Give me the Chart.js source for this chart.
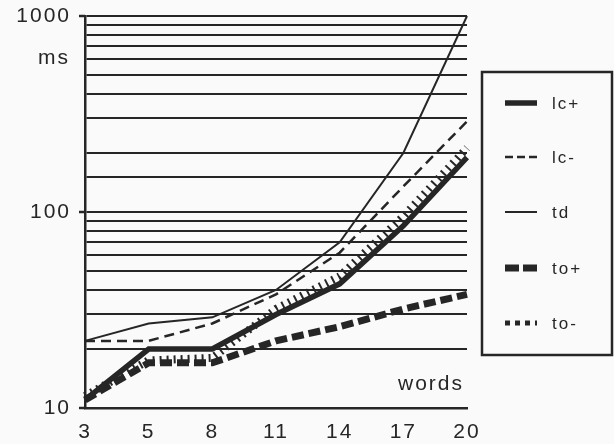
<!DOCTYPE html>
<html lang="en">
<head>
<meta charset="UTF-8">
<title>ms vs words</title>
<script src="https://cdn.jsdelivr.net/npm/chart.js"></script>
<style>
  html, body { margin: 0; padding: 0; background: #fafafa; }
  #wrap { width: 614px; height: 444px; position: relative; }
</style>
</head>
<body>
<div id="wrap"><canvas id="grafico" width="614" height="444"></canvas></div>
<script>
// data
var palavras = ['3', '5', '8', '11', '14', '17', '20'];
var lcMais  = [11, 20, 20, 30, 43, 85, 190];
var lcMenos = [22, 22, 27, 38, 62, 135, 290];
var td      = [22, 27, 29, 40, 70, 200, 1000];
var toMais  = [11, 17, 17, 22, 26, 32, 38];
var toMenos = [11.5, 17.5, 18, 32, 47, 95, 212];
var marcasY = [10, 100, 1000];

var tinta = '#262626';
var fonte = '"Liberation Sans", Arial, sans-serif';

// styles for each series, reused by the hand drawn legend
var estilos = [
  { label: 'lc+', data: lcMais,  width: 5.5, dash: [],      legDash: [] },
  { label: 'lc-', data: lcMenos, width: 2.5, dash: [10, 6], legDash: [8, 4] },
  { label: 'td',  data: td,      width: 2,   dash: [],      legDash: [] },
  { label: 'to+', data: toMais,  width: 7,   dash: [12, 5], legDash: [14, 4] },
  { label: 'to-', data: toMenos, width: 8,   dash: [2, 5],  legDash: [5, 5], legWidth: 5 }
];

var fundo = {
  id: 'fundo',
  beforeDraw: function (chart) {
    var c = chart.ctx;
    c.save();
    c.fillStyle = '#fafafa';
    c.fillRect(0, 0, chart.width, chart.height);
    c.restore();
    c.letterSpacing = '2px';
  }
};

var extras = {
  id: 'extras',
  afterDraw: function (chart) {
    var c = chart.ctx;
    var y = chart.scales.y;
    var area = chart.chartArea;
    c.save();
    c.fillStyle = tinta;
    c.strokeStyle = tinta;

    // little ticks at the labelled values
    c.lineWidth = 2.5;
    marcasY.forEach(function (v) {
      var py = y.getPixelForValue(v);
      c.beginPath();
      c.moveTo(area.left - 6, py);
      c.lineTo(area.left, py);
      c.stroke();
    });

    // axis titles
    c.font = '21px ' + fonte;
    c.textAlign = 'right';
    c.textBaseline = 'middle';
    c.fillText('ms', 70, 58);
    c.fillText('words', 464, 384);

    // legend box
    var bx = 482, by = 72, bw = 130, bh = 283;
    c.lineWidth = 2.5;
    c.strokeRect(bx, by, bw, bh);
    c.font = '17px ' + fonte;
    c.textAlign = 'left';
    var linhas = [103, 157, 212, 268, 323];
    estilos.forEach(function (s, i) {
      c.lineWidth = s.legWidth || s.width;
      c.setLineDash(s.legDash);
      c.beginPath();
      c.moveTo(505, linhas[i]);
      c.lineTo(537, linhas[i]);
      c.stroke();
      c.setLineDash([]);
      c.fillText(s.label, 552, linhas[i] + 1);
    });
    c.restore();
  }
};

var grafico = new Chart(document.getElementById('grafico').getContext('2d'), {
  type: 'line',
  data: {
    labels: palavras,
    datasets: estilos.map(function (s) {
      return {
        label: s.label,
        data: s.data,
        borderColor: tinta,
        borderWidth: s.width,
        borderDash: s.dash,
        borderCapStyle: 'butt',
        borderJoinStyle: 'miter',
        pointRadius: 0,
        tension: 0,
        fill: false
      };
    })
  },
  options: {
    responsive: false,
    animation: false,
    devicePixelRatio: 1,
    layout: { padding: { top: 16, right: 147, left: 0, bottom: 0 } },
    plugins: {
      legend: { display: false },
      tooltip: { enabled: false }
    },
    scales: {
      x: {
        type: 'category',
        offset: false,
        afterFit: function (s) { s.height = 36; s.paddingLeft = 0; s.paddingRight = 0; },
        grid: { display: false, drawTicks: false },
        border: { display: true, color: tinta, width: 2.5 },
        ticks: {
          color: tinta,
          padding: 12,
          maxRotation: 0,
          autoSkip: false,
          font: { family: fonte, size: 21 }
        }
      },
      y: {
        type: 'logarithmic',
        min: 10,
        max: 1000,
        afterFit: function (s) { s.width = 85; s.paddingTop = 0; s.paddingBottom = 0; },
        grid: { color: tinta, lineWidth: 2, drawTicks: false },
        border: { display: true, color: tinta, width: 2.5 },
        ticks: {
          autoSkip: false,
          color: tinta,
          padding: 14,
          font: { family: fonte, size: 21 },
          callback: function (v) {
            return marcasY.indexOf(v) >= 0 ? String(v) : '';
          }
        }
      }
    }
  },
  plugins: [fundo, extras]
});
</script>
</body>
</html>
